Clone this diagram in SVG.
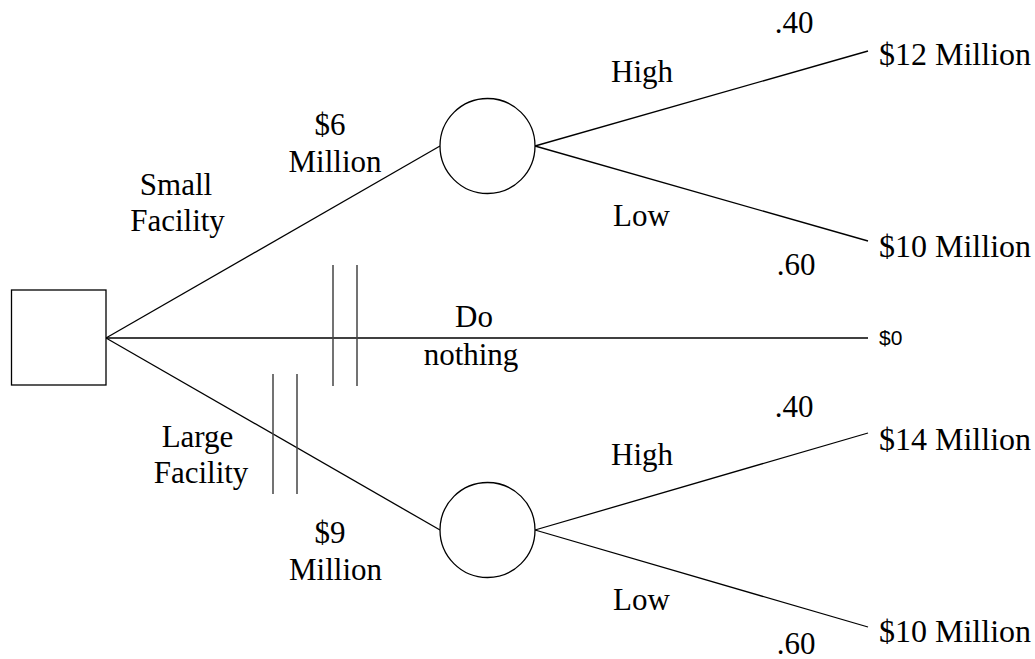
<svg xmlns="http://www.w3.org/2000/svg" width="1035" height="659" viewBox="0 0 1035 659">
<style>
.s{fill:#fff;stroke:#000;stroke-width:1.3}
.c line{stroke:#000;stroke-width:1.3}
.c .bar{stroke:#444;stroke-width:1.5}
text{font-family:"Liberation Serif","Times New Roman",serif;font-size:31px;fill:#000;text-anchor:middle}
.p{text-anchor:start;font-size:32px}
.sans{font-family:"Liberation Sans",Arial,sans-serif;font-size:21px;text-anchor:start}
</style>
<rect width="1035" height="659" fill="#fff"/>
<g id="connectors" class="c">
<line x1="106" y1="338" x2="440" y2="146"/>
<line x1="106" y1="338" x2="868" y2="338"/>
<line x1="106" y1="338" x2="440" y2="530"/>
<line x1="535" y1="146" x2="868" y2="51"/>
<line x1="535" y1="146" x2="868" y2="241"/>
<line x1="535" y1="530" x2="868" y2="433"/>
<line x1="535" y1="530" x2="868" y2="627"/>
<line class="bar" x1="333" y1="265" x2="333" y2="386"/>
<line class="bar" x1="357" y1="265" x2="357" y2="386"/>
<line class="bar" x1="273" y1="374" x2="273" y2="494"/>
<line class="bar" x1="297" y1="374" x2="297" y2="494"/>
</g>
<g id="decision"><rect class="s" x="11.5" y="290" width="94.5" height="95"/></g>
<g id="chance1"><circle class="s" cx="487.5" cy="146" r="47.5"/></g>
<g id="chance2"><circle class="s" cx="487.5" cy="530" r="47.5"/></g>
<g id="labels">
<text x="176" y="195">Small</text>
<text x="177.5" y="231">Facility</text>
<text x="330" y="135">$6</text>
<text x="335" y="172">Million</text>
<text x="642" y="82">High</text>
<text x="794" y="33">.40</text>
<text x="641.5" y="226">Low</text>
<text x="796" y="275">.60</text>
<text x="474" y="327">Do</text>
<text x="471" y="365">nothing</text>
<text x="197.5" y="447">Large</text>
<text x="201" y="483">Facility</text>
<text x="330" y="543">$9</text>
<text x="335.5" y="580">Million</text>
<text x="794" y="417">.40</text>
<text x="642" y="465">High</text>
<text x="641.5" y="610">Low</text>
<text x="796" y="654">.60</text>
<text class="p" x="879" y="65">$12 Million</text>
<text class="p" x="879" y="257">$10 Million</text>
<text class="sans" x="879" y="345">$0</text>
<text class="p" x="879" y="450">$14 Million</text>
<text class="p" x="879" y="642">$10 Million</text>
</g>
</svg>
